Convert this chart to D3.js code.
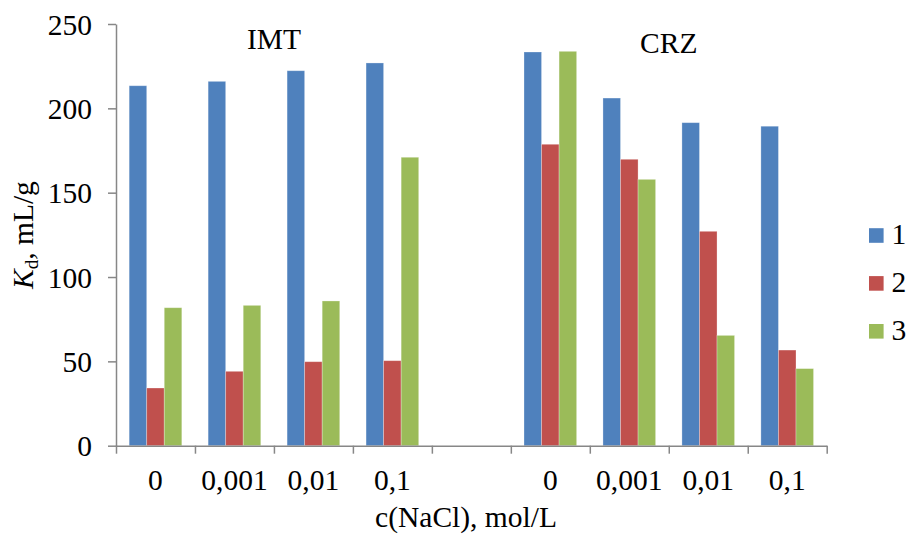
<!DOCTYPE html>
<html>
<head>
<meta charset="utf-8">
<script src="https://cdn.jsdelivr.net/npm/d3@7"></script>
<style>
  html, body { margin: 0; padding: 0; background: #fff; }
  svg { display: block; }
  text { font-family: "Liberation Serif", "Times New Roman", serif; fill: #000; }
</style>
</head>
<body>
<svg id="chart" width="906" height="535"></svg>
<script>
// ---- data ----
const categories = ["0", "0,001", "0,01", "0,1", "", "0", "0,001", "0,01", "0,1"];
const seriesNames = ["1", "2", "3"];
const series1 = [213.4, 216.0, 222.3, 226.9, null, 233.4, 206.1, 191.5, 189.4];
const series2 = [34.2, 44.1, 49.8, 50.4, null, 178.7, 169.8, 127.1, 56.7];
const series3 = [81.8, 83.2, 85.8, 171.0, null, 233.8, 157.9, 65.4, 45.7];
const yTicks = [0, 50, 100, 150, 200, 250];
const groupLabels = ["IMT", "CRZ"];
const groupRanges = [[0, 3], [5, 8]];
const colors = ["#4F81BD", "#C0504D", "#9BBB59"];

// ---- layout ----
const svg = d3.select("#chart");
const mLeft = 116, mRight = 826.7, mTop = 24, mBottom = 445.7;
const fs = 29.5;
const axisColor = "#878787";

const idx = d3.range(categories.length);
const x = d3.scaleBand().domain(idx).range([mLeft, mRight]).padding(0);
const xb = d3.scaleLinear().domain([0, categories.length]).range([mLeft, mRight]);
const y = d3.scaleLinear().domain([0, 250]).range([mBottom, mTop]);

const bw = x.bandwidth();
const barW = bw / 4.5;
const x1 = d3.scaleBand().domain([0, 1, 2]).range([bw / 6, bw / 6 + 3 * barW]).padding(0);

const allSeries = [series1, series2, series3];

// bars
allSeries.forEach((s, si) => {
  svg.append("g").selectAll("rect")
    .data(idx.filter(i => s[i] != null))
    .join("rect")
    .attr("x", i => x(i) + x1(si))
    .attr("y", i => y(s[i]))
    .attr("width", x1.bandwidth())
    .attr("height", i => y(0) - y(s[i]))
    .attr("fill", colors[si])
    .attr("stroke", "rgba(255,255,255,0.35)")
    .attr("stroke-width", 0.8);
});

// y axis
const yAxis = svg.append("g")
  .attr("transform", `translate(${mLeft},0)`)
  .attr("font-family", null)
  .call(d3.axisLeft(y).tickValues(yTicks).tickSize(8).tickPadding(16).tickSizeOuter(0));
yAxis.attr("font-family", "Liberation Serif").attr("font-size", fs);
yAxis.selectAll("path, line").attr("stroke", axisColor).attr("stroke-width", 1.5);
yAxis.selectAll("text").style("font-size", fs + "px").style("font-family", "'Liberation Serif', serif").attr("fill", "#000").attr("dy", "0.34em");

// x axis boundaries
const xAxisB = svg.append("g")
  .attr("transform", `translate(0,${mBottom})`)
  .call(d3.axisBottom(xb).tickValues(d3.range(categories.length + 1)).tickFormat("").tickSize(8).tickSizeOuter(0));
xAxisB.selectAll("path, line").attr("stroke", axisColor).attr("stroke-width", 1.5);

// x labels
const xAxisL = svg.append("g")
  .attr("transform", `translate(0,${mBottom})`)
  .call(d3.axisBottom(x).tickFormat(i => categories[i]).tickSize(0));
xAxisL.attr("font-family", "Liberation Serif").attr("font-size", fs);
xAxisL.select("path").remove();
xAxisL.selectAll("text").style("font-size", fs + "px").style("font-family", "'Liberation Serif', serif")
  .attr("fill", "#000").attr("y", 44.3).attr("dy", 0);

// group labels
const groupY = [49, 53];
groupLabels.forEach((g, gi) => {
  const [a, b] = groupRanges[gi];
  svg.append("text")
    .attr("x", (xb(a) + xb(b + 1)) / 2)
    .attr("y", groupY[gi])
    .attr("text-anchor", "middle")
    .style("font-size", fs + "px")
    .text(g);
});

// x title
svg.append("text")
  .attr("x", 466)
  .attr("y", 527)
  .attr("text-anchor", "middle")
  .style("font-size", fs + "px")
  .text("c(NaCl), mol/L");

// y title
const yt = svg.append("text")
  .attr("transform", "translate(33,289) rotate(-90)")
  .attr("text-anchor", "start")
  .style("font-size", fs + "px");
yt.append("tspan").style("font-style", "italic").text("K");
yt.append("tspan").attr("dy", 5).style("font-size", "19px").text("d");
yt.append("tspan").attr("dy", -5).text(", mL/g");

// legend
const leg = svg.append("g");
seriesNames.forEach((n, i) => {
  const cy = 235.5 + i * 47.9;
  leg.append("rect").attr("x", 869).attr("y", cy - 7.3).attr("width", 14.6).attr("height", 14.6).attr("fill", colors[i]);
  leg.append("text").attr("x", 891.5).attr("y", cy + 8.5).style("font-size", fs + "px").text(n);
});
</script>
</body>
</html>
